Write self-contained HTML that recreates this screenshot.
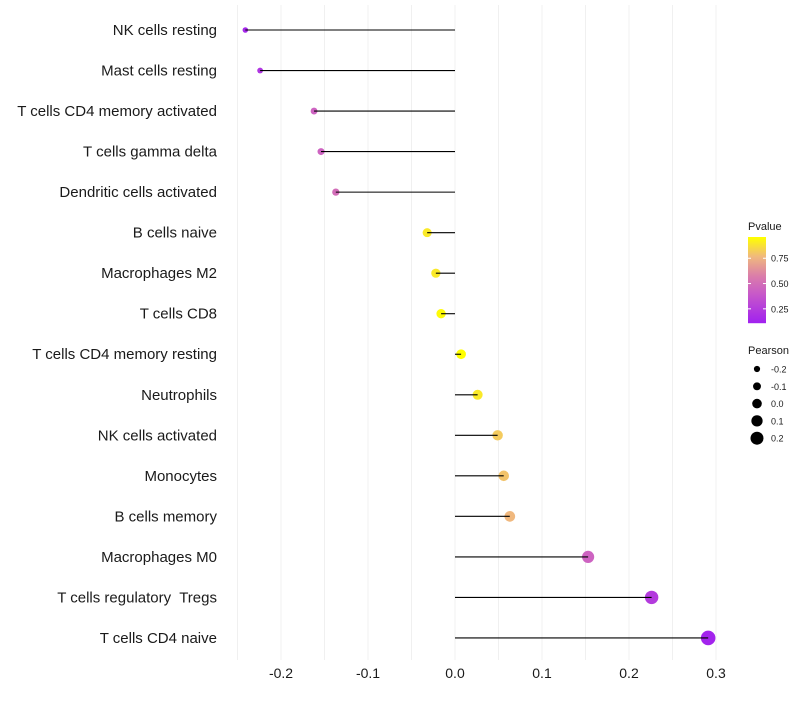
<!DOCTYPE html>
<html><head><meta charset="utf-8"><style>
body{margin:0;background:#fff;font-family:"Liberation Sans",sans-serif}
text{white-space:pre}
</style></head><body>
<svg id="c" width="800" height="700" xmlns="http://www.w3.org/2000/svg"></svg>
<script>
const categories=["NK cells resting","Mast cells resting","T cells CD4 memory activated","T cells gamma delta","Dendritic cells activated","B cells naive","Macrophages M2","T cells CD8","T cells CD4 memory resting","Neutrophils","NK cells activated","Monocytes","B cells memory","Macrophages M0","T cells regulatory  Tregs","T cells CD4 naive"];
const pearson=[-0.241,-0.224,-0.162,-0.154,-0.137,-0.032,-0.022,-0.016,0.007,0.026,0.049,0.056,0.063,0.153,0.226,0.291];
const pvalue=[0.15,0.22,0.45,0.45,0.5,0.9,0.9,0.95,0.98,0.9,0.82,0.8,0.77,0.45,0.25,0.13];
const xTicks=[-0.2,-0.1,0.0,0.1,0.2,0.3];
const xTickLabels=["-0.2","-0.1","0.0","0.1","0.2","0.3"];
const legendP=[0.75,0.5,0.25];
const legendPearson=[-0.2,-0.1,0.0,0.1,0.2];

const NS="http://www.w3.org/2000/svg";
const svg=document.getElementById('c');
function el(t,a,p){const e=document.createElementNS(NS,t);for(const k in a)e.setAttribute(k,a[k]);(p||svg).appendChild(e);return e;}
const x=v=>455+v*870;
const y=i=>30+i*40.53;
const r=v=>4.8+v*8.5;
function col(p){
  const t=Math.max(0,Math.min(1,(p-0.11)/(0.96-0.11)));
  const stops=[[0,[160,32,240]],[0.35,[200,90,200]],[0.55,[218,125,170]],[0.78,[240,185,125]],[1,[255,255,0]]];
  let k=0;while(k<stops.length-2&&t>stops[k+1][0])k++;
  const a=stops[k],b=stops[k+1];
  const u=(t-a[0])/(b[0]-a[0]);
  const c=a[1].map((v,j)=>Math.round(v+(b[1][j]-v)*u));
  return `rgb(${c})`;
}
for(let g=-0.25;g<=0.301;g+=0.05){
  const gl=el('line',{x1:x(g),x2:x(g),y1:5,y2:660,stroke:'#f0f0f0','stroke-width':1});
  
  
}
xTicks.forEach((t,i)=>{
  const tx=el('text',{x:x(t),y:678,'text-anchor':'middle','font-size':14,fill:'#1a1a1a'});
  tx.textContent=xTickLabels[i];
  
  
});
categories.forEach((c,i)=>{
  const tx=el('text',{x:217,y:y(i)+5,'text-anchor':'end','font-size':15,fill:'#1a1a1a'});
  tx.textContent=c;
  
  
  const pt=el('circle',{cx:x(pearson[i]),cy:y(i),r:r(pearson[i]),fill:col(pvalue[i])});
  
  
  const ln=el('line',{x1:x(pearson[i]),x2:x(0),y1:y(i),y2:y(i),stroke:'#000','stroke-width':1.1});
  
  
});
const g1=el('g',{});


const lt=el('text',{x:748,y:230,'font-size':11,fill:'#1a1a1a'},g1);lt.textContent='Pvalue';
for(let k=0;k<86;k++){
  const p=0.96-(k/86)*(0.96-0.11);
  el('rect',{x:748,y:237+k,width:18,height:1.2,fill:col(p)},g1);
}
legendP.forEach(p=>{
  const yy=237+(0.96-p)/(0.85)*86;
  el('line',{x1:748,x2:751,y1:yy,y2:yy,stroke:'#fff'},g1);
  el('line',{x1:763,x2:766,y1:yy,y2:yy,stroke:'#fff'},g1);
  const t=el('text',{x:771,y:yy+3.5,'font-size':9,fill:'#1a1a1a'},g1);t.textContent=p.toFixed(2);
});
const g2=el('g',{});


const lt2=el('text',{x:748,y:354,'font-size':11,fill:'#1a1a1a'},g2);lt2.textContent='Pearson';
legendPearson.forEach((v,k)=>{
  const yy=369+k*17.3;
  el('circle',{cx:757,cy:yy,r:r(v),fill:'#000'},g2);
  const t=el('text',{x:771,y:yy+3.5,'font-size':9,fill:'#1a1a1a'},g2);t.textContent=v.toFixed(1);
});
</script>
</body></html>
